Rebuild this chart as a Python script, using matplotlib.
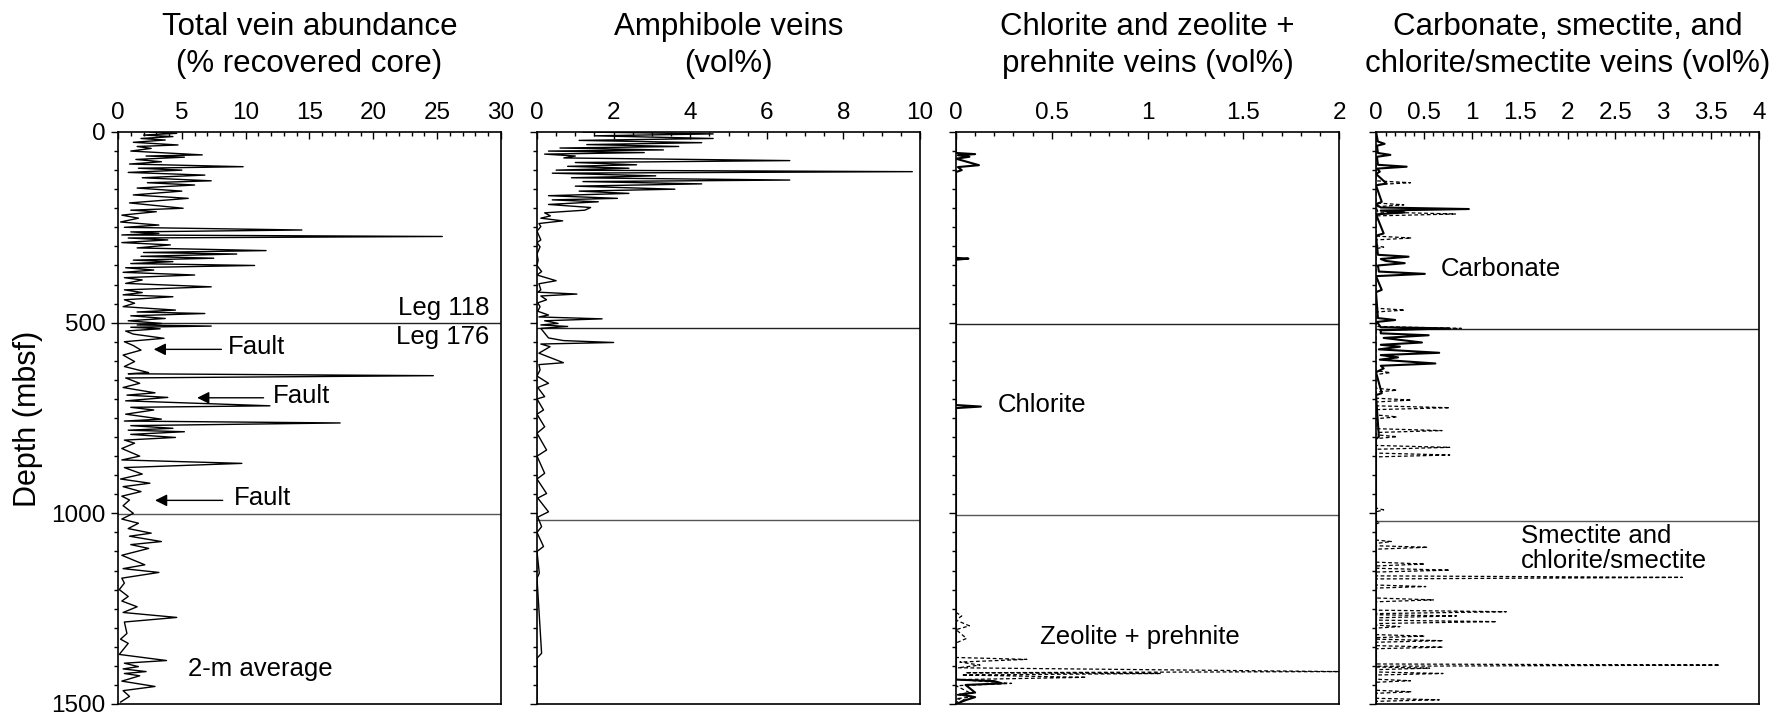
import numpy as np
import matplotlib
matplotlib.use("Agg")
import matplotlib.pyplot as plt
from matplotlib.ticker import MultipleLocator, FuncFormatter

plt.rcParams['font.family'] = ['Liberation Sans', 'DejaVu Sans']

# ---- data: (depth mbsf, value) ----
total_veins = [
    (0, 2.5), (3.5, 4.6), (8, 2.0), (12, 4.3), (17, 1.8), (21, 3.7), (27, 1.2), (34, 4.7),
    (38, 1.5), (43, 2.6), (50, 1.0), (60, 6.6), (63, 2.2), (66, 5.2), (72, 1.4), (78, 3.4),
    (84, 0.9), (91, 9.8), (95, 1.6), (100, 5.0), (106, 0.8), (113, 6.8), (120, 1.9), (128, 7.3),
    (133, 2.3), (139, 6.0), (147, 1.5), (155, 5.0), (165, 1.2), (174, 5.5), (186, 0.9), (200, 5.1),
    (205, 1.0), (209, 3.0), (218, 0.3), (226, 1.6), (236, 0.2), (244, 3.2), (250, 0.5), (257, 14.4),
    (262, 1.0), (266, 3.2), (270, 0.3), (274, 25.4), (278, 0.8), (283, 3.9), (290, 0.3), (296, 4.1),
    (304, 1.5), (311, 11.6), (316, 2.0), (320, 9.3), (326, 1.8), (331, 7.5), (336, 1.2), (340, 4.3),
    (345, 1.0), (350, 10.7), (356, 0.6), (362, 2.8), (368, 0.4), (375, 6.0), (382, 0.5), (388, 1.9),
    (397, 0.6), (406, 7.3), (414, 0.5), (421, 1.9), (427, 0.4), (432, 4.3), (440, 0.5), (449, 1.3),
    (458, 0.4), (467, 4.5), (472, 1.5), (476, 6.8), (482, 1.0), (489, 3.7), (495, 0.8), (502, 3.4),
    (506, 1.5), (509, 7.3), (512, 1.0), (516, 3.3), (522, 0.6), (530, 1.2), (541, 3.6), (550, 0.5),
    (560, 1.2), (572, 1.8), (585, 0.4), (602, 1.3), (615, 0.5), (631, 2.4), (634, 0.8), (639, 24.7),
    (645, 0.6), (659, 1.7), (670, 0.4), (684, 2.9), (690, 0.7), (696, 3.9), (705, 0.6), (718, 11.9),
    (722, 1.0), (729, 2.8), (740, 0.6), (753, 3.4), (758, 0.5), (763, 17.4), (770, 1.0), (777, 4.3),
    (782, 0.8), (786, 5.2), (793, 1.0), (801, 4.5), (808, 0.5), (816, 1.3), (830, 0.3), (850, 1.7),
    (860, 0.3), (869, 9.7), (880, 0.5), (897, 1.9), (910, 0.2), (921, 2.5), (930, 0.4), (943, 1.8),
    (955, 0.3), (965, 0.9), (980, 0.4), (1000, 1.2), (1015, 0.3), (1026, 1.6), (1040, 0.8), (1052, 2.6),
    (1060, 0.9), (1074, 3.4), (1082, 1.0), (1092, 2.4), (1110, 0.3), (1135, 2.1), (1145, 0.4), (1155, 3.2),
    (1170, 0.3), (1183, 0.5), (1200, 0.1), (1218, 0.8), (1230, 0.3), (1245, 1.5), (1260, 0.4), (1273, 4.6),
    (1285, 0.5), (1315, 0.7), (1330, 0.2), (1341, 0.8), (1370, 0.1), (1386, 3.8), (1393, 0.5), (1402, 1.6),
    (1408, 0.4), (1415, 2.2), (1420, 0.5), (1426, 1.7), (1440, 0.3), (1454, 2.9), (1465, 0.4), (1480, 0.9),
    (1495, 0.2),
]

amphibole = [
    (0, 1.2), (5, 4.6), (10, 1.5), (17, 4.6), (22, 1.1), (28, 4.3), (33, 1.3), (38, 3.7), (42, 0.6),
    (47, 3.3), (50, 0.3), (54, 2.8), (58, 0.2), (63, 1.0), (68, 0.7), (75, 6.6), (80, 1.0), (86, 2.6),
    (90, 0.8), (95, 2.4), (100, 0.5), (104, 9.8), (108, 0.4), (115, 3.1), (120, 0.9), (126, 6.6),
    (130, 1.2), (136, 4.3), (142, 1.0), (150, 3.6), (155, 1.1), (161, 2.4), (167, 0.3), (174, 2.1),
    (178, 0.4), (183, 1.6), (190, 0.3), (198, 1.4), (205, 1.25), (212, 0.2), (220, 0.35), (226, 0.1),
    (233, 0.67), (240, 0.05), (248, 0.1), (260, 0.0), (283, 0.1), (290, 0.0), (301, 0.08), (320, 0.0),
    (336, 0.03), (350, 0.0), (366, 0.12), (375, 0.0), (390, 0.5), (398, 0.05), (414, 0.1), (420, 0.02),
    (425, 1.04), (430, 0.1), (440, 0.25), (448, 0.02), (458, 0.08), (470, 0.02), (480, 0.3), (485, 0.05),
    (490, 1.7), (495, 0.2), (502, 0.55), (506, 0.1), (510, 0.8), (515, 0.1), (540, 0.3), (547, 0.69),
    (552, 2.0), (556, 0.1), (563, 0.34), (580, 0.05), (605, 0.69), (610, 0.05), (624, 0.08), (640, 0.0),
    (659, 0.3), (670, 0.02), (694, 0.2), (700, 0.0), (729, 0.17), (740, 0.0), (773, 0.2), (790, 0.0),
    (834, 0.25), (850, 0.0), (895, 0.2), (910, 0.0), (948, 0.25), (960, 0.02), (996, 0.3), (1010, 0.02),
    (1035, 0.12), (1050, 0.0), (1087, 0.17), (1100, 0.0), (1157, 0.06), (1170, 0.0), (1367, 0.12),
    (1380, 0.0), (1500, 0.0),
]

chlorite = [
    (0, 0), (55, 0), (58, 0.1), (61, 0.01), (65, 0.07), (70, 0.0), (87, 0.12), (92, 0.01), (100, 0.03),
    (105, 0), (330, 0), (332, 0.065), (335, 0), (716, 0), (720, 0.13), (724, 0), (1436, 0), (1440, 0.2),
    (1446, 0.24), (1450, 0.05), (1470, 0.1), (1475, 0.02), (1482, 0.1), (1490, 0.05), (1500, 0),
]

zeolite_prehnite = [
    (1260, 0), (1269, 0.03), (1280, 0), (1295, 0.07), (1305, 0), (1328, 0.055), (1340, 0), (1378, 0),
    (1383, 0.37), (1390, 0.02), (1398, 0.125), (1405, 0.01), (1415, 2.0), (1418, 0.05), (1420, 1.07),
    (1424, 0.03), (1430, 0.68), (1436, 0.02), (1446, 0.29), (1452, 0), (1470, 0.07), (1476, 0),
    (1481, 0.1), (1486, 0), (1490, 0.055), (1495, 0),
]

carbonate = [
    (0, 0), (25, 0.02), (31, 0.09), (36, 0.01), (55, 0.02), (60, 0.15), (65, 0.01), (86, 0.02),
    (91, 0.32), (96, 0.01), (104, 0.04), (110, 0), (135, 0.11), (140, 0), (183, 0.06), (190, 0),
    (198, 0.05), (202, 0.97), (206, 0.05), (211, 0.3), (216, 0), (266, 0.08), (272, 0), (322, 0.02),
    (327, 0.34), (333, 0.05), (338, 0.1), (344, 0.3), (350, 0.02), (366, 0.03), (372, 0.51), (378, 0),
    (414, 0.06), (420, 0), (488, 0.02), (493, 0.2), (498, 0.01), (512, 0.05), (515, 0.77), (520, 0.05),
    (528, 0.05), (533, 0.55), (540, 0.08), (552, 0.48), (558, 0.05), (563, 0.25), (570, 0.03),
    (579, 0.66), (585, 0.05), (591, 0.23), (597, 0.04), (607, 0.62), (613, 0.05), (620, 0.08),
    (630, 0), (685, 0.06), (690, 0), (799, 0.03), (805, 0), (1500, 0),
]

smectite = [
    (0, 0), (128, 0), (133, 0.36), (138, 0), (186, 0.0), (191, 0.29), (196, 0), (210, 0.02),
    (215, 0.83), (220, 0), (273, 0), (278, 0.37), (283, 0), (298, 0), (302, 0.08), (306, 0),
    (462, 0), (467, 0.3), (472, 0), (510, 0), (515, 0.89), (520, 0), (626, 0), (631, 0.15), (636, 0),
    (672, 0), (677, 0.22), (682, 0), (698, 0), (703, 0.37), (708, 0), (718, 0), (723, 0.77), (728, 0),
    (742, 0), (747, 0.22), (752, 0), (778, 0), (783, 0.69), (788, 0), (794, 0), (799, 0.22), (804, 0),
    (822, 0), (827, 0.77), (832, 0), (842, 0), (847, 0.77), (852, 0), (986, 0), (991, 0.08), (996, 0),
    (1020, 0), (1024, 0.04), (1028, 0), (1070, 0), (1074, 0.16), (1079, 0), (1085, 0), (1089, 0.54),
    (1094, 0), (1128, 0), (1133, 0.51), (1138, 0), (1144, 0), (1149, 0.77), (1154, 0), (1164, 0),
    (1168, 3.2), (1172, 0), (1188, 0), (1192, 0.52), (1196, 0), (1222, 0), (1227, 0.6), (1232, 0),
    (1254, 0), (1258, 1.36), (1263, 0), (1266, 0), (1269, 0.84), (1274, 0), (1280, 0), (1284, 1.26),
    (1289, 0), (1293, 0), (1297, 0.25), (1301, 0), (1318, 0), (1322, 0.51), (1326, 0), (1330, 0),
    (1334, 0.7), (1338, 0), (1347, 0), (1351, 0.7), (1355, 0), (1395, 0), (1398, 3.59), (1401, 0),
    (1403, 0), (1406, 0.56), (1410, 0), (1416, 0), (1420, 0.7), (1424, 0), (1435, 0), (1439, 0.36),
    (1443, 0), (1464, 0), (1468, 0.37), (1472, 0), (1485, 0), (1489, 0.66), (1493, 0), (1500, 0),
]

titles = ["Total vein abundance\n(% recovered core)",
          "Amphibole veins\n(vol%)",
          "Chlorite and zeolite +\nprehnite veins (vol%)",
          "Carbonate, smectite, and\nchlorite/smectite veins (vol%)"]
xmax = [30, 10, 2, 4]
xmajor = [5, 2, 0.5, 0.5]
xminor = [1, 0.5, 0.1, 0.1]
# depth of the horizontal boundary lines in each panel
boundaries = [(500, 1002), (514, 1017), (503, 1004), (517, 1020)]

fig = plt.figure(figsize=(17.86, 7.13), dpi=100)
lefts = [118, 537, 956, 1376]
axes = []
for i, l in enumerate(lefts):
    ax = fig.add_axes([l / 1786, 9 / 713, 383 / 1786, 572 / 713])
    axes.append(ax)
    ax.set_xlim(0, xmax[i])
    ax.set_ylim(1500, 0)
    ax.xaxis.set_major_locator(MultipleLocator(xmajor[i]))
    ax.xaxis.set_minor_locator(MultipleLocator(xminor[i]))
    ax.xaxis.set_major_formatter(FuncFormatter(lambda v, p: "%g" % v))
    ax.yaxis.set_major_locator(MultipleLocator(500))
    ax.yaxis.set_minor_locator(MultipleLocator(50))
    ax.xaxis.tick_top()
    ax.tick_params(axis='x', which='major', direction='in', length=5, width=1, labelsize=17.5, pad=6)
    ax.tick_params(axis='x', which='minor', direction='in', length=3, width=1)
    ax.tick_params(axis='y', which='major', direction='out', length=5, width=1, labelsize=17.5, pad=4)
    ax.tick_params(axis='y', which='minor', direction='out', length=3, width=1)
    if i > 0:
        ax.tick_params(axis='y', labelleft=False)
    for s in ax.spines.values():
        s.set_linewidth(1.2)
    ax.text(0.5, 1.152, titles[i], transform=ax.transAxes, ha='center', va='center',
            fontsize=22.5, linespacing=1.3)
    b1, b2 = boundaries[i]
    ax.axhline(b1, color='#222222', lw=1.0, zorder=1)
    ax.axhline(b2, color='#555555', lw=1.0, zorder=1)

d, v = np.array(total_veins).T
axes[0].plot(v, d, color='black', lw=1.0)
d, v = np.array(amphibole).T
axes[1].plot(v, d, color='black', lw=1.0)
d, v = np.array(chlorite).T
axes[2].plot(v, d, color='black', lw=1.5)
d, v = np.array(zeolite_prehnite).T
axes[2].plot(v, d, color='black', lw=0.9, ls=(0, (3, 2)))
d, v = np.array(carbonate).T
axes[3].plot(v, d, color='black', lw=1.5)
d, v = np.array(smectite).T
axes[3].plot(v, d, color='black', lw=0.9, ls=(0, (3, 2)))

fig.text(28 / 1786, 1 - 419 / 713, "Depth (mbsf)", rotation=90, ha='center', va='center', fontsize=22)

# annotations
fs = 18.5
ax = axes[0]
ax.text(29.1, 493, "Leg 118", ha='right', va='bottom', fontsize=fs)
ax.text(29.1, 507, "Leg 176", ha='right', va='top', fontsize=fs)
faults = [(2.8, 8.1, 8.6, 570), (6.2, 11.4, 12.1, 697), (2.9, 8.2, 9.1, 966)]
for head, tail, tx, dep in faults:
    ax.annotate("", xy=(head, dep), xytext=(tail, dep),
                arrowprops=dict(arrowstyle='-|>', color='black', lw=1, mutation_scale=18,
                                shrinkA=0, shrinkB=0))
    ax.text(tx, dep - 5, "Fault", ha='left', va='center', fontsize=fs)
ax.text(5.5, 1408, "2-m average", ha='left', va='center', fontsize=fs)

axes[2].text(0.22, 716, "Chlorite", ha='left', va='center', fontsize=fs)
axes[2].text(0.44, 1323, "Zeolite + prehnite", ha='left', va='center', fontsize=fs)
axes[3].text(0.68, 360, "Carbonate", ha='left', va='center', fontsize=fs)
axes[3].text(1.51, 1093, "Smectite and\nchlorite/smectite", ha='left', va='center',
             fontsize=fs, linespacing=1.05)

fig.savefig("out.png", dpi=100)
